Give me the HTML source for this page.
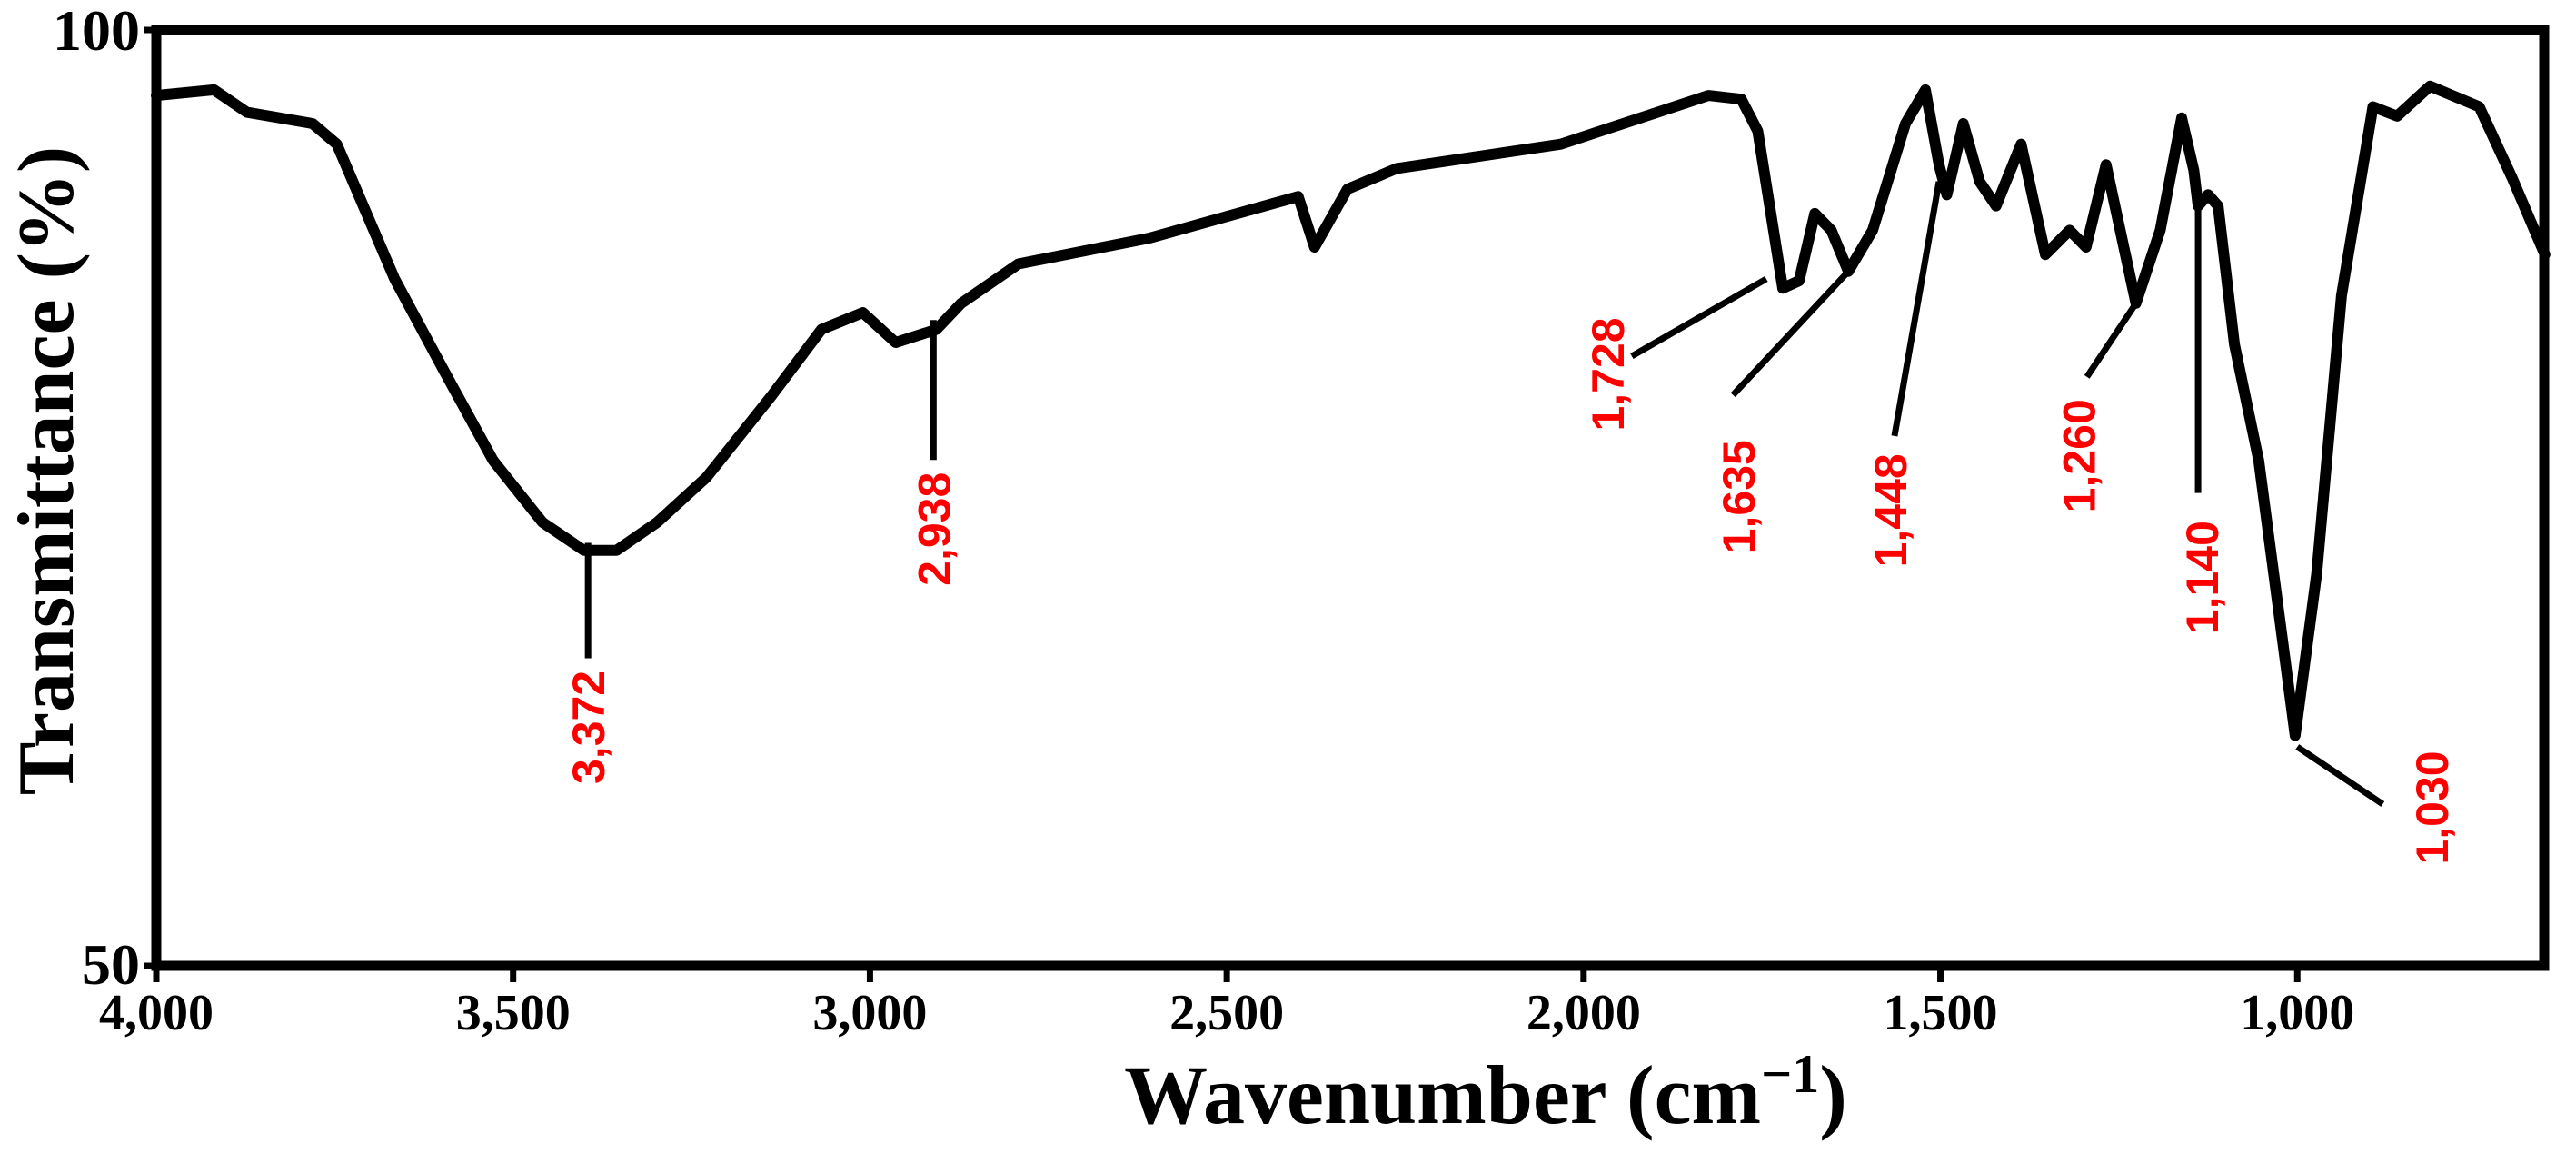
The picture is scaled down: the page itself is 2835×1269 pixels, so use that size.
<!DOCTYPE html>
<html><head><meta charset="utf-8"><style>
html,body{margin:0;padding:0;background:#fff;width:2835px;height:1269px;overflow:hidden}
</style></head><body>
<svg id="chart" width="2835" height="1269" viewBox="0 0 2835 1269" xmlns="http://www.w3.org/2000/svg">
<rect width="2835" height="1269" fill="#fff"/>
<g id="plot"></g>
<text transform="translate(80,518) rotate(-90)" text-anchor="middle" font-family="Liberation Serif, serif" font-weight="bold" font-size="88">Transmittance (%)</text>
<text x="1635" y="1236" text-anchor="middle" font-family="Liberation Serif, serif" font-weight="bold" font-size="92">Wavenumber (cm<tspan font-size="60" dy="-34">−1</tspan><tspan dy="34">)</tspan></text>
</svg>
<script>
const wavenumbers=[4000,3919,3873,3781,3747,3666,3597,3528,3459,3401,3355,3298,3229,3137,3068,3010,2964,2907,2872,2792,2607,2400,2377,2331,2262,2032,1825,1779,1756,1721,1698,1676,1653,1629,1595,1549,1521,1502,1491,1468,1445,1422,1387,1353,1319,1296,1268,1226,1192,1162,1145,1139,1125,1111,1088,1054,1003,973,938,894,860,814,745,699,653];
const transmittance=[96.5,96.8,95.6,95.0,93.9,86.7,81.8,77.0,73.7,72.2,72.2,73.7,76.1,80.5,84.0,84.9,83.3,84.0,85.4,87.5,88.9,91.1,88.4,91.5,92.6,93.9,96.5,96.3,94.6,86.2,86.6,90.2,89.3,87.1,89.3,95.0,96.8,92.8,91.2,95.0,91.9,90.6,93.9,88.0,89.3,88.4,92.8,85.4,89.3,95.3,92.5,90.6,91.2,90.6,83.2,77.0,62.3,70.9,85.8,95.9,95.4,97.0,95.9,92.1,88.0];
const xTicks=[4000,3500,3000,2500,2000,1500,1000];
const xTickLabels=["4,000","3,500","3,000","2,500","2,000","1,500","1,000"];
const yTicks=[100,50];
const peakLabels=["3,372","2,938","1,728","1,635","1,448","1,260","1,140","1,030"];
const peakWn=[3395,2911,1744,1629,1502,1226,1139,1000];
const peakT=[72.6,84.5,86.7,87.1,91.9,85.4,90.6,61.7];
const X0=172,X1=2800,Y0=33,Y1=1063,WN0=4000,WN1=654;
const sx=w=>X0+(WN0-w)/(WN0-WN1)*(X1-X0);
const sy=t=>Y1-(t-50)/50*(Y1-Y0);
const NS="http://www.w3.org/2000/svg";
const g=document.getElementById('plot');
function el(tag,attrs,parent){const e=document.createElementNS(NS,tag);for(const k in attrs)e.setAttribute(k,attrs[k]);(parent||g).appendChild(e);return e;}
let d="";wavenumbers.forEach((w,i)=>{d+=(i?"L":"M")+sx(w).toFixed(1)+","+sy(transmittance[i]).toFixed(1);});
const line=el('path',{d:d,fill:'none',stroke:'#000','stroke-width':12,'stroke-linejoin':'round','stroke-linecap':'round'});


const fr=el('rect',{x:X0,y:Y0,width:X1-X0,height:Y1-Y0,fill:'none',stroke:'#000','stroke-width':11});


xTicks.forEach((w,i)=>{
  const t=el('line',{x1:sx(w),x2:sx(w),y1:Y1,y2:Y1+18,stroke:'#000','stroke-width':7});
  
  
  const tx=el('text',{x:sx(w),y:1133,'text-anchor':'middle','font-family':'Liberation Serif, serif','font-weight':'bold','font-size':56});
  tx.textContent=xTickLabels[i];
  
  
});
yTicks.forEach(v=>{
  const t=el('line',{x1:X0-14,x2:X0,y1:sy(v),y2:sy(v),stroke:'#000','stroke-width':7});
  
  
  const tx=el('text',{x:X0-18,y:sy(v)+(v==100?22:20),'text-anchor':'end','font-family':'Liberation Serif, serif','font-weight':'bold','font-size':64});
  tx.textContent=String(v);
  
  
});
const leadEnd=[[0,127],[0,154],[-148,85],[-127,136],[-49,280],[-54,81],[0,316],[94,63]];
const textOff=[[0,203],[0,230],[-175,105],[-121,248],[-54,362],[-63,168],[4,409],[148,67]];
peakWn.forEach((w,i)=>{
  const px=sx(w),py=sy(peakT[i]);
  const l=el('line',{x1:px,y1:py,x2:px+leadEnd[i][0],y2:py+leadEnd[i][1],stroke:'#000','stroke-width':7});
  
  
  const cx=px+textOff[i][0],cy=py+textOff[i][1];
  const t=el('text',{transform:`translate(${cx+18},${cy}) rotate(-90)`,'text-anchor':'middle','font-family':'Liberation Sans, sans-serif','font-weight':'bold','font-size':50,fill:'#ff0000'});
  t.textContent=peakLabels[i];
  
  
});
</script>
</body></html>
